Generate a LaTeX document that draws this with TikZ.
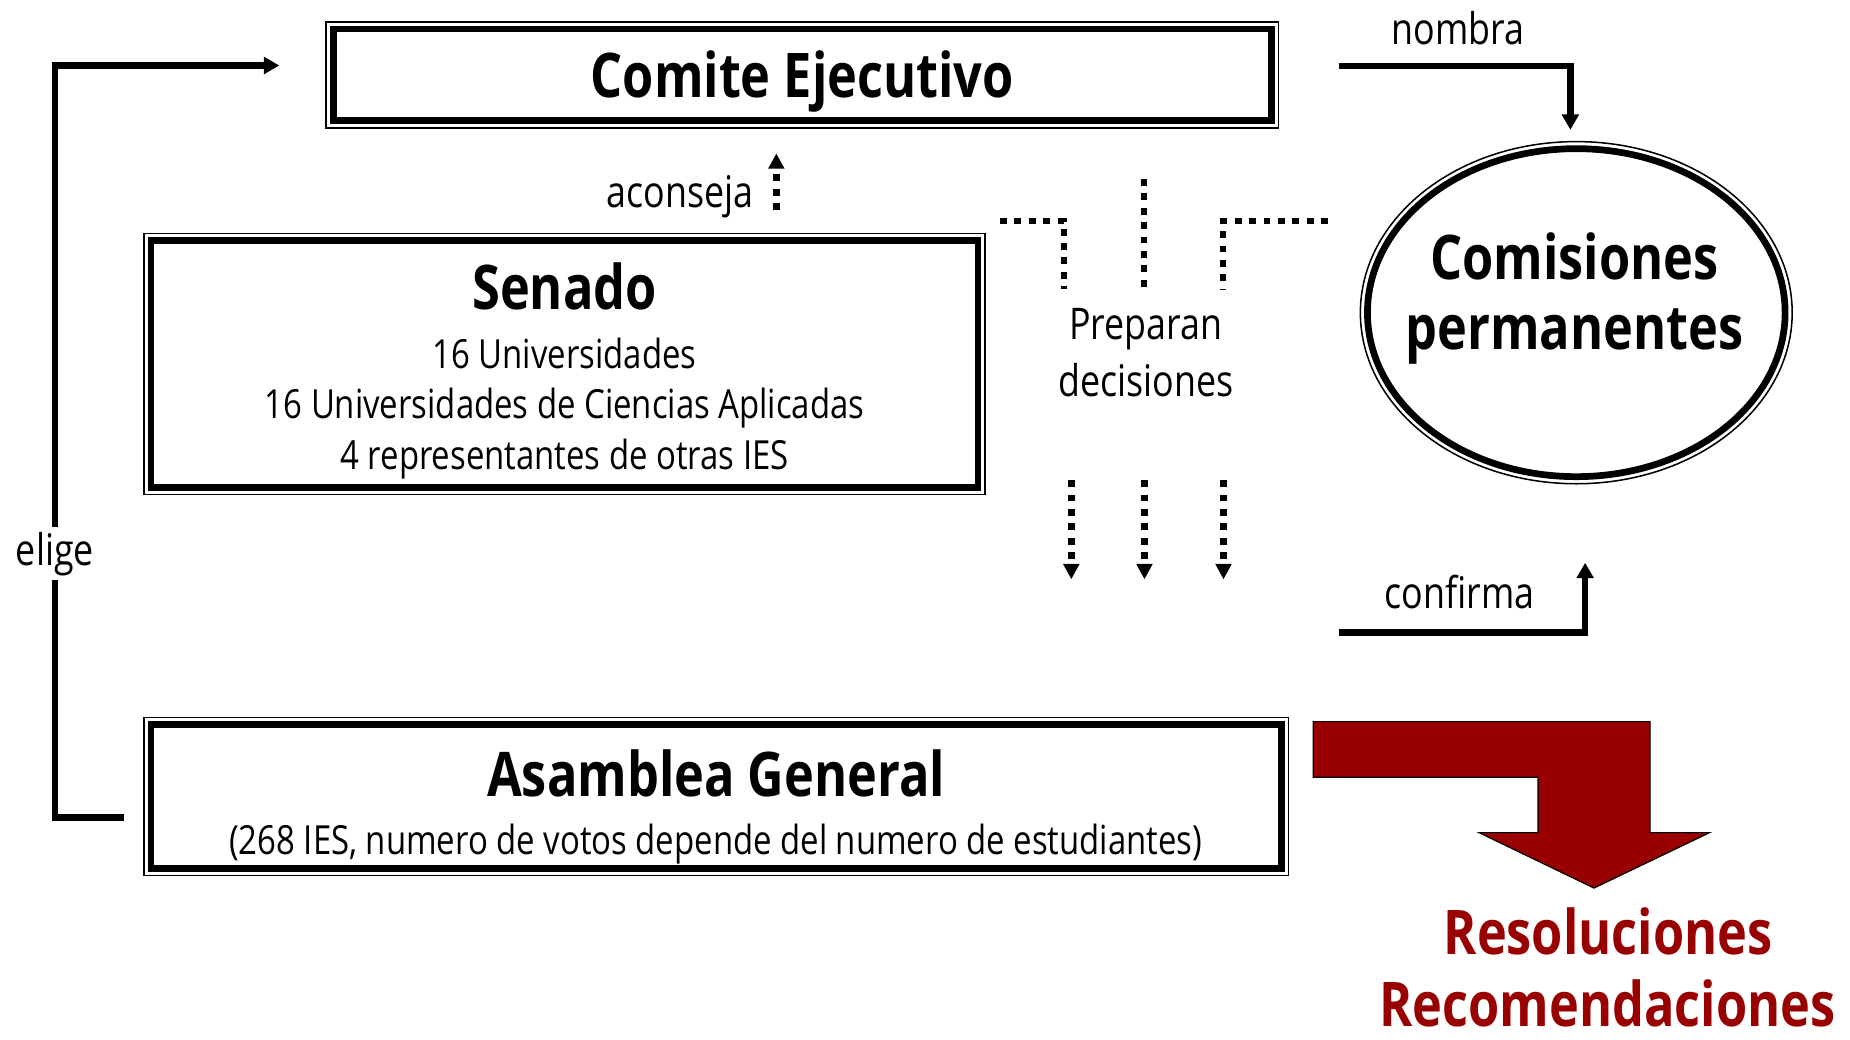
\documentclass[tikz,border=0pt]{standalone}
\usepackage{fontspec}
\setmainfont{Open Sans}[FakeStretch=0.82]
\usetikzlibrary{arrows.meta,shapes.geometric}
\definecolor{darkred}{HTML}{990000}
\begin{document}
\begin{tikzpicture}[x=1pt,y=-1pt,
  thickbox/.style={draw, line width=5.7pt, inner sep=0pt, outer sep=0pt, fill=white},
  thinframe/.style={draw, line width=1.3pt},
  conn/.style={line width=5.5pt, -{Triangle[length=13pt,width=14pt]}},
  dotline/.style={line width=5.5pt, dash pattern=on 5.8pt off 6.4pt},
  dotarrow/.style={dotline, -{Triangle[length=13pt,width=13pt]}},
  bigtxt/.style={font=\bfseries\fontsize{52.2}{60}\selectfont, inner sep=0pt, anchor=base},
  medtxt/.style={font=\fontsize{34}{40}\selectfont, inner sep=0pt, anchor=base},
  labtxt/.style={font=\fontsize{37}{42}\selectfont, inner sep=0pt, anchor=base}]
\useasboundingbox (0,0) rectangle (1568,881);

% Comite Ejecutivo
\node[thickbox, minimum width=795pt, minimum height=77.7pt] (ce) at (680,63.5) {};
\draw[thinframe] ([shift={(-6pt,6pt)}]ce.north west) rectangle ([shift={(6pt,-6pt)}]ce.south east);
\node[bigtxt] (ceT) at (680,82.5) {Comite Ejecutivo};

% Senado
\node[thickbox, minimum width=701pt, minimum height=209pt] (sen) at (478.5,308.5) {};
\draw[thinframe] ([shift={(-6pt,6pt)}]sen.north west) rectangle ([shift={(6pt,-6pt)}]sen.south east);
\node[bigtxt] (senT) at (478.5,262) {Senado};
\node[medtxt] (sen1) at (478.5,312) {16 Universidades};
\node[medtxt] (sen2) at (478.5,355) {16 Universidades de Ciencias Aplicadas};
\node[medtxt] (sen3) at (478.5,398) {4 representantes de otras IES};

% Asamblea General
\node[thickbox, minimum width=958pt, minimum height=122pt] (ag) at (607,675) {};
\draw[thinframe] ([shift={(-6pt,6pt)}]ag.north west) rectangle ([shift={(6pt,-6pt)}]ag.south east);
\node[bigtxt] (agT) at (607,675) {Asamblea General};
\node[medtxt] (agS) at (606.5,724) {(268 IES, numero de votos depende del numero de estudiantes)};

% Comisiones permanentes
\node[ellipse, draw, line width=5.7pt, outer sep=0pt, inner sep=0pt,
      minimum width=354pt, minimum height=278pt] (cp) at (1336,265) {};
\draw[thinframe] (cp.center) ellipse [x radius=183pt, y radius=145pt];
\node[bigtxt] (cpT1) at (1334.5,236.7) {Comisiones};
\node[bigtxt] (cpT2) at (1334.5,296) {permanentes};

% elige
\coordinate (eS) at (105,693);
\coordinate (eE) at (236.7,55.5);
\draw[conn] (eS) -- (46.5,693) |- (eE);
\node[labtxt, fill=white, inner sep=4pt] (elige) at (46.5,479) {elige};

% nombra
\coordinate (nS) at (1134.6,55.9);
\coordinate (nE) at (1331,110);
\draw[conn] (nS) -| (nE);
\node[labtxt] (nomT) at (1235.5,38) {nombra};

% confirma
\coordinate (cS) at (1134.6,536);
\coordinate (cE) at (1343.5,477);
\draw[conn] (cS) -| (cE);
\node[labtxt] (conT) at (1237,516) {confirma};

% aconseja
\coordinate (aS) at (658,178);
\coordinate (aE) at (658,130);
\draw[dotarrow] (aS) -- (aE);
\node[labtxt] (acT) at (576.5,176) {aconseja};

% Preparan decisiones
\coordinate (p1) at (847.5,187.3);
\coordinate (p2) at (902,245);
\coordinate (p3) at (969.6,151.7);
\coordinate (p4) at (969.6,249);
\coordinate (p5) at (1125.6,187.3);
\coordinate (p6) at (1036.7,245);
\draw[dotline] (p1) -| (p2);
\draw[dotline] (p3) -- (p4);
\draw[dotline] (p5) -| (p6);
\node[labtxt] (prT1) at (971,288) {Preparan};
\node[labtxt] (prT2) at (971,336) {decisiones};
\coordinate (d1s) at (908,407);   \coordinate (d1e) at (908,491);
\coordinate (d2s) at (970,407);   \coordinate (d2e) at (970,491);
\coordinate (d3s) at (1037,407);  \coordinate (d3e) at (1037,491);
\draw[dotarrow] (d1s) -- (d1e);
\draw[dotarrow] (d2s) -- (d2e);
\draw[dotarrow] (d3s) -- (d3e);

% red arrow
\draw[fill=darkred, line width=1pt] (1113,611.6) -- (1398.6,611.6) -- (1398.6,705.7) -- (1449,705.7)
  -- (1351,752.7) -- (1253.5,705.7) -- (1303.6,705.7) -- (1303.6,658.7) -- (1113,658.7) -- cycle;
\node[bigtxt, text=darkred] (res1) at (1363,809) {Resoluciones};
\node[bigtxt, text=darkred] (res2) at (1362.5,870) {Recomendaciones};
\end{tikzpicture}
\end{document}
